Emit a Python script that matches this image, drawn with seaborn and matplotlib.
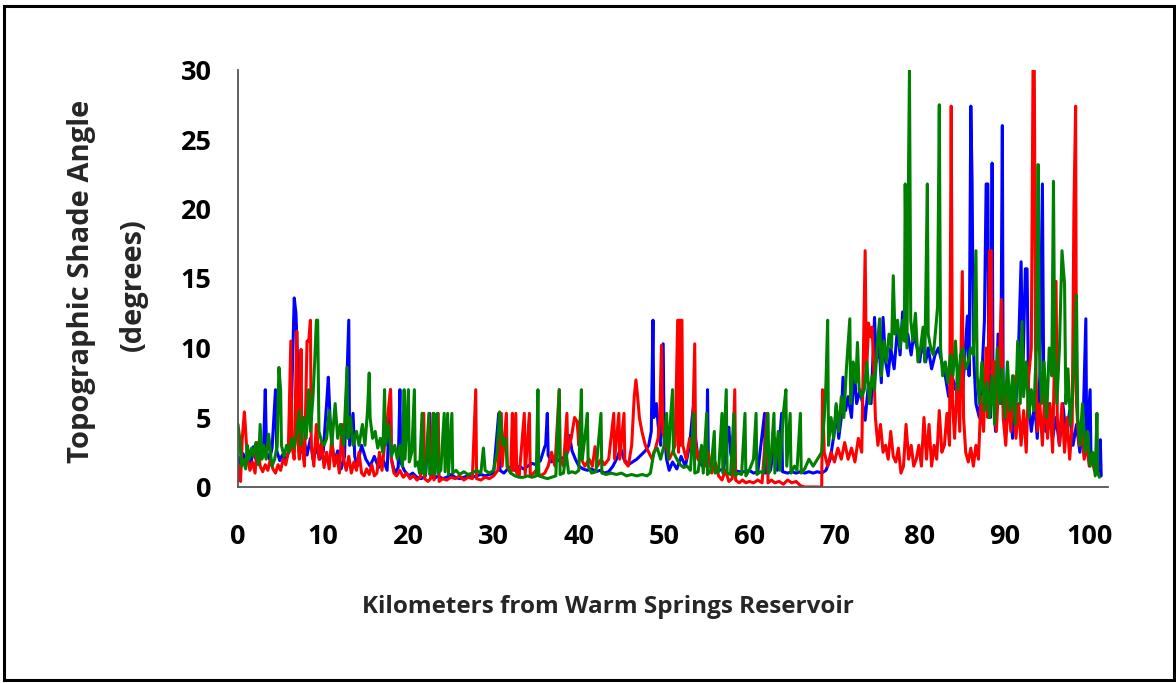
import numpy as np
import pandas as pd
import matplotlib
matplotlib.use("Agg")
import matplotlib.pyplot as plt
import seaborn as sns
from matplotlib.patches import Rectangle

# ---------------- data ----------------
blue_km = [0.0, 0.3, 0.6, 0.9, 1.2, 1.5, 1.8, 2.1, 2.4, 2.7, 3.0, 3.2, 3.35, 3.7, 4.0, 4.4, 4.55, 4.9, 5.2, 5.6,
           6.0, 6.3, 6.6, 6.8, 7.0, 7.2, 7.5, 7.8, 8.1, 8.5, 8.8, 9.2, 9.6, 10.0, 10.4, 10.6, 10.8, 11.0, 11.3, 11.7,
           12.1, 12.5, 13.0, 13.1, 13.5, 13.7, 14.0, 14.5, 15.0, 15.5, 16.0, 16.5, 17.0, 17.5, 17.9, 18.0, 18.4, 18.8, 19.0, 19.1,
           19.5, 20.0, 20.5, 21.0, 21.5, 22.0, 22.5, 22.6, 23.0, 23.5, 24.0, 24.5, 25.0, 25.5, 26.0, 26.5, 27.0, 27.5, 28.0, 28.5,
           29.0, 29.5, 30.0, 30.6, 30.75, 31.2, 31.8, 32.5, 33.0, 33.5, 34.0, 34.5, 35.0, 35.5, 36.0, 36.1, 36.3, 36.4, 36.8, 37.2,
           37.6, 38.0, 38.5, 38.9, 39.2, 39.6, 40.0, 40.5, 41.0, 41.5, 42.0, 42.5, 43.0, 43.5, 44.0, 44.5, 44.9, 45.3, 45.8, 46.3,
           46.8, 47.3, 47.8, 48.2, 48.5, 48.7, 48.8, 49.1, 49.3, 49.6, 49.9, 50.0, 50.3, 50.6, 51.0, 51.5, 52.0, 52.5, 53.0, 53.3,
           53.5, 53.7, 54.0, 54.5, 55.0, 55.1, 55.2, 55.6, 56.0, 56.5, 57.0, 57.4, 57.6, 57.8, 58.2, 58.8, 59.5, 60.0, 60.5, 61.0,
           61.8, 61.9, 62.5, 63.0, 63.3, 63.8, 63.9, 64.5, 65.0, 65.5, 66.0, 66.5, 67.0, 67.5, 68.0, 68.5, 69.0, 69.5, 70.0, 70.2,
           70.5, 70.8, 71.0, 71.3, 71.6, 72.0, 72.3, 72.6, 73.0, 73.3, 73.6, 74.0, 74.3, 74.7, 74.9, 75.2, 75.5, 75.7, 76.0, 76.3,
           76.6, 77.0, 77.4, 77.7, 78.0, 78.3, 78.6, 79.0, 79.3, 79.7, 80.0, 80.3, 80.7, 81.0, 81.4, 81.8, 82.2, 82.6, 83.0, 83.4,
           83.8, 84.2, 84.6, 85.0, 85.6, 85.8, 86.0, 86.15, 86.3, 86.6, 87.0, 87.3, 87.6, 87.8, 88.0, 88.1, 88.3, 88.5, 88.6, 88.9,
           89.2, 89.5, 89.7, 89.8, 90.1, 90.5, 90.9, 91.3, 91.6, 91.9, 92.1, 92.4, 92.6, 92.8, 93.1, 93.5, 93.8, 94.1, 94.4, 94.55,
           94.8, 95.2, 95.6, 96.0, 96.4, 96.8, 97.2, 97.6, 98.0, 98.4, 98.8, 99.2, 99.5, 99.6, 100.0, 100.1, 100.5, 100.8, 101.0, 101.2,
           101.3]
blue_deg = [2.2, 1.6, 2.4, 1.8, 2.6, 1.5, 2.9, 2.0, 3.0, 2.2, 2.8, 7.0, 2.5, 2.0, 2.8, 7.0, 2.6, 1.9, 2.3, 2.0,
            2.6, 6.5, 13.6, 12.5, 9.0, 4.5, 2.5, 3.2, 2.3, 3.5, 2.0, 2.8, 2.0, 2.5, 6.0, 7.9, 5.0, 3.3, 1.8, 2.6,
            1.3, 2.2, 12.0, 3.0, 5.3, 2.2, 1.5, 3.0, 2.0, 1.5, 2.2, 1.4, 2.0, 1.2, 7.0, 2.0, 1.0, 1.4, 7.0, 1.8,
            1.2, 0.8, 1.0, 0.7, 0.6, 0.8, 5.3, 0.9, 0.6, 0.8, 0.6, 0.7, 0.9, 0.7, 0.6, 0.7, 0.8, 0.7, 0.8, 0.9,
            0.8, 0.9, 1.0, 5.3, 1.2, 1.0, 1.4, 1.2, 1.5, 1.3, 1.5, 1.7, 1.6, 1.9, 2.9, 3.0, 5.3, 2.3, 1.8, 2.0,
            1.9, 2.1, 2.0, 3.7, 2.6, 2.0, 1.5, 1.3, 1.2, 1.3, 1.1, 1.2, 1.0, 1.1, 1.5, 2.1, 2.8, 2.0, 1.6, 1.8,
            2.0, 2.3, 2.6, 3.0, 4.0, 12.0, 5.0, 6.0, 4.5, 3.0, 10.3, 4.0, 2.0, 1.2, 1.8, 1.3, 2.2, 1.5, 3.0, 5.0,
            6.1, 3.5, 2.0, 1.5, 2.0, 7.0, 2.0, 1.3, 1.5, 1.2, 1.3, 3.5, 4.3, 2.5, 1.2, 1.1, 1.1, 1.2, 1.0, 1.1,
            5.3, 1.0, 1.2, 3.5, 1.2, 5.3, 1.1, 1.0, 1.1, 1.0, 1.1, 1.0, 1.1, 1.0, 1.1, 1.0, 1.2, 2.0, 4.0, 5.8,
            3.5, 5.0, 7.9, 5.5, 6.5, 5.0, 8.5, 6.0, 7.0, 6.0, 4.8, 7.5, 6.0, 12.2, 9.0, 10.5, 7.5, 12.2, 9.0, 8.0,
            10.0, 8.5, 11.5, 9.5, 12.6, 10.5, 11.0, 9.5, 11.0, 10.0, 9.0, 10.5, 9.0, 10.0, 8.5, 9.5, 10.0, 9.0, 8.0, 6.5,
            8.0, 7.0, 8.0, 6.5, 12.3, 8.0, 27.4, 22.0, 10.0, 6.0, 5.0, 8.0, 12.0, 21.8, 21.8, 8.0, 5.0, 23.3, 8.5, 4.0,
            11.0, 6.0, 26.0, 6.0, 4.0, 7.0, 3.5, 6.0, 10.0, 16.2, 8.0, 15.7, 15.7, 6.0, 4.0, 6.0, 3.5, 8.0, 21.8, 8.0,
            4.0, 6.0, 3.5, 5.0, 3.0, 6.0, 3.5, 5.5, 3.0, 4.5, 2.5, 5.0, 12.1, 3.0, 7.0, 2.0, 1.5, 1.2, 1.0, 3.4,
            0.8]

red_km = [0.0, 0.15, 0.3, 0.5, 0.75, 0.9, 1.1, 1.4, 1.7, 2.0, 2.3, 2.6, 2.9, 3.2, 3.5, 3.8, 4.1, 4.4, 4.7, 5.0,
          5.3, 5.6, 5.9, 6.2, 6.3, 6.6, 6.9, 7.0, 7.2, 7.4, 7.5, 7.8, 8.1, 8.3, 8.5, 8.6, 8.9, 9.2, 9.5, 9.8,
          10.1, 10.4, 10.7, 11.0, 11.3, 11.6, 11.9, 12.2, 12.4, 12.7, 13.0, 13.3, 13.6, 13.9, 14.2, 14.5, 14.8, 15.1, 15.4, 15.7,
          16.0, 16.3, 16.6, 16.9, 17.2, 17.6, 17.9, 18.0, 18.3, 18.6, 19.0, 19.4, 19.8, 20.2, 20.6, 21.0, 21.4, 21.8, 21.9, 22.3,
          22.6, 22.9, 23.0, 23.5, 23.6, 24.0, 24.5, 25.0, 25.5, 26.0, 26.5, 27.0, 27.5, 27.9, 28.0, 28.5, 29.0, 29.5, 30.0, 30.5,
          30.9, 31.0, 31.5, 31.6, 32.0, 32.2, 32.3, 32.6, 32.7, 33.0, 33.6, 33.7, 34.2, 34.3, 34.7, 35.0, 35.5, 36.0, 36.4, 36.8,
          37.2, 37.7, 37.8, 38.2, 38.6, 38.7, 39.1, 39.5, 39.8, 40.0, 40.2, 40.3, 40.7, 41.2, 41.6, 41.9, 42.2, 42.6, 43.0, 43.5,
          44.1, 44.2, 44.7, 44.8, 45.3, 45.4, 45.8, 46.2, 46.5, 46.7, 46.9, 47.1, 47.4, 47.8, 48.2, 48.6, 49.0, 49.3, 49.5, 49.7,
          49.85, 50.2, 50.6, 51.0, 51.3, 51.6, 51.7, 51.8, 51.9, 52.0, 52.1, 52.2, 52.6, 53.0, 53.3, 53.6, 53.7, 54.0, 54.4, 54.8,
          55.2, 55.6, 56.0, 56.4, 56.8, 57.2, 57.6, 58.0, 58.3, 58.4, 58.8, 59.2, 59.6, 60.0, 60.5, 61.0, 61.5, 62.1, 62.2, 62.6,
          63.0, 63.5, 64.0, 64.5, 65.0, 65.5, 66.0, 66.5, 67.0, 67.5, 68.0, 68.5, 68.6, 68.8, 69.2, 69.6, 70.0, 70.4, 70.8, 71.2,
          71.6, 72.0, 72.4, 72.8, 73.2, 73.6, 73.75, 74.0, 74.2, 74.4, 74.6, 74.8, 75.1, 75.4, 75.7, 76.0, 76.3, 76.6, 76.9, 77.2,
          77.5, 77.8, 78.1, 78.4, 78.7, 79.0, 79.3, 79.6, 79.9, 80.2, 80.5, 80.8, 81.1, 81.4, 81.7, 82.0, 82.3, 82.6, 82.9, 83.2,
          83.5, 83.7, 83.85, 84.1, 84.4, 84.7, 85.0, 85.15, 85.4, 85.7, 86.0, 86.3, 86.6, 86.9, 87.2, 87.5, 87.8, 88.0, 88.2, 88.4,
          88.5, 88.8, 89.0, 89.3, 89.6, 89.8, 90.1, 90.4, 90.7, 91.0, 91.3, 91.6, 91.9, 92.2, 92.5, 92.8, 93.1, 93.3, 93.45, 93.6,
          93.8, 94.1, 94.4, 94.7, 95.0, 95.3, 95.6, 96.0, 96.15, 96.4, 96.7, 97.0, 97.3, 97.6, 97.9, 98.1, 98.3, 98.4, 98.7, 99.0,
          99.3, 99.6, 99.9, 100.2, 100.5, 100.8, 101.0]
red_deg = [0.5, 1.5, 0.4, 3.5, 5.4, 4.0, 2.0, 1.2, 1.8, 1.0, 3.2, 1.5, 1.1, 1.6, 1.2, 2.0, 1.3, 1.0, 1.6, 1.2,
           2.0, 1.6, 2.5, 10.5, 3.0, 2.0, 11.2, 3.5, 2.0, 9.9, 3.0, 1.5, 10.5, 10.5, 12.0, 3.0, 1.5, 4.5, 2.0, 3.2,
           1.4, 2.5, 1.3, 3.5, 1.5, 2.3, 1.0, 4.5, 2.0, 1.2, 2.2, 1.0, 1.8, 1.2, 2.5, 1.0, 0.8, 1.3, 0.9, 1.6,
           0.8, 1.0, 2.5, 1.2, 3.0, 5.3, 7.0, 2.0, 1.0, 0.8, 1.2, 0.7, 1.0, 0.6, 0.8, 0.5, 0.7, 5.3, 0.6, 0.4,
           0.6, 5.3, 0.5, 5.3, 0.4, 0.6, 0.5, 0.7, 0.6, 0.8, 0.5, 0.7, 0.6, 7.0, 0.6, 0.5, 0.7, 0.6, 0.8, 1.2,
           5.3, 1.5, 5.3, 1.4, 1.0, 5.3, 1.2, 5.3, 1.0, 0.8, 5.3, 0.9, 5.3, 0.8, 1.0, 1.2, 0.8, 1.0, 1.5, 2.5,
           1.5, 7.0, 2.0, 1.5, 5.3, 2.5, 3.5, 5.0, 4.7, 3.0, 5.3, 2.0, 1.5, 2.0, 1.5, 2.9, 1.5, 2.0, 1.6, 2.0,
           5.3, 2.0, 5.3, 2.0, 5.3, 1.8, 1.5, 3.0, 6.5, 7.7, 6.5, 5.0, 4.0, 3.0, 2.5, 2.0, 2.8, 3.5, 5.0, 10.2,
           4.0, 3.0, 2.0, 2.5, 3.0, 12.0, 2.5, 12.0, 3.0, 12.0, 12.0, 3.0, 2.0, 3.5, 2.5, 10.3, 3.0, 2.0, 2.8, 1.5,
           2.5, 1.0, 1.8, 0.8, 0.5, 1.2, 0.4, 0.6, 7.0, 0.5, 0.3, 0.5, 0.3, 0.4, 0.3, 0.5, 0.3, 5.3, 0.3, 0.5,
           0.3, 0.4, 0.2, 0.5, 0.3, 0.4, 0.1, 0.0, 0.0, 0.0, 0.0, 0.0, 7.0, 2.5, 1.5, 2.5, 1.8, 2.8, 2.0, 3.2,
           2.0, 2.8, 1.8, 3.5, 2.5, 17.0, 8.0, 11.8, 10.8, 11.5, 9.0, 5.0, 3.0, 4.5, 2.5, 3.0, 2.0, 4.0, 2.2, 1.8,
           2.8, 1.0, 1.5, 4.5, 2.0, 3.0, 1.5, 2.0, 3.0, 1.5, 5.0, 2.0, 4.5, 1.5, 3.0, 2.0, 5.5, 2.5, 3.0, 5.3,
           3.0, 27.4, 6.0, 3.5, 8.0, 4.0, 15.5, 5.0, 2.5, 1.8, 2.8, 1.5, 3.0, 2.0, 6.5, 4.0, 10.0, 5.0, 17.0, 17.0,
           6.0, 9.0, 4.0, 8.0, 13.5, 5.0, 3.0, 6.5, 4.0, 8.0, 3.5, 6.0, 3.0, 5.5, 2.5, 8.0, 10.0, 30.0, 30.0, 10.0,
           4.0, 6.0, 3.0, 7.0, 3.5, 6.0, 2.5, 14.8, 5.0, 3.0, 6.0, 2.5, 5.0, 2.0, 4.5, 20.0, 27.4, 6.0, 3.0, 4.0,
           2.0, 3.0, 1.5, 2.0, 1.2, 1.0, 1.0]

green_km = [0.0, 0.2, 0.4, 0.6, 0.9, 1.1, 1.3, 1.6, 1.8, 2.1, 2.4, 2.6, 2.8, 3.0, 3.3, 3.6, 3.8, 4.0, 4.3, 4.6,
            4.8, 5.0, 5.1, 5.4, 5.7, 6.0, 6.3, 6.6, 6.9, 7.2, 7.4, 7.7, 8.0, 8.3, 8.5, 8.8, 9.0, 9.2, 9.35, 9.5,
            9.8, 10.1, 10.4, 10.7, 11.0, 11.4, 11.7, 12.0, 12.4, 12.8, 12.9, 13.2, 13.5, 13.9, 14.2, 14.6, 14.9, 15.2, 15.4, 15.5,
            15.8, 16.1, 16.4, 16.7, 17.0, 17.2, 17.3, 17.7, 18.0, 18.4, 18.7, 19.0, 19.3, 19.5, 19.6, 20.0, 20.1, 20.4, 20.7, 20.8,
            21.1, 21.3, 21.6, 21.7, 22.0, 22.4, 22.5, 22.8, 23.0, 23.1, 23.4, 23.5, 23.8, 24.2, 24.3, 24.6, 24.7, 25.1, 25.2, 25.6,
            26.0, 26.5, 27.0, 27.5, 28.0, 28.5, 28.8, 29.0, 29.5, 30.0, 30.4, 30.7, 30.9, 31.1, 31.4, 31.6, 32.0, 32.5, 33.0, 33.5,
            34.0, 34.5, 35.0, 35.2, 35.3, 35.8, 36.3, 36.8, 37.3, 37.7, 37.8, 38.2, 38.5, 38.8, 39.2, 39.6, 40.0, 40.3, 40.4, 40.7,
            41.0, 41.1, 41.5, 42.0, 42.6, 42.7, 43.2, 43.8, 44.4, 45.0, 45.6, 46.2, 46.8, 47.4, 48.0, 48.4, 48.8, 49.2, 49.6, 50.0,
            50.3, 50.5, 50.8, 51.0, 51.1, 51.5, 51.9, 52.3, 52.7, 53.1, 53.5, 53.6, 54.0, 54.4, 54.6, 55.0, 55.1, 55.5, 55.9, 56.0,
            56.4, 56.8, 56.9, 57.3, 57.4, 57.8, 58.2, 58.3, 58.7, 59.1, 59.5, 59.6, 60.0, 60.5, 60.8, 60.9, 61.3, 61.7, 62.2, 62.3,
            62.6, 62.9, 63.0, 63.4, 63.6, 64.0, 64.3, 64.4, 64.8, 64.9, 65.3, 65.6, 66.0, 66.1, 66.5, 67.0, 67.5, 68.0, 68.5, 68.8,
            69.0, 69.2, 69.3, 69.6, 69.9, 70.2, 70.5, 70.8, 71.1, 71.4, 71.8, 71.9, 72.2, 72.5, 72.7, 72.9, 73.2, 73.5, 73.8, 74.1,
            74.4, 74.7, 75.0, 75.3, 75.5, 75.8, 76.1, 76.4, 76.7, 76.9, 77.1, 77.4, 77.7, 78.0, 78.2, 78.3, 78.5, 78.8, 78.95, 79.2,
            79.5, 79.8, 80.1, 80.4, 80.6, 80.9, 81.0, 81.3, 81.6, 81.9, 82.1, 82.3, 82.45, 82.7, 83.0, 83.3, 83.6, 83.9, 84.2, 84.5,
            84.8, 85.1, 85.4, 85.7, 86.0, 86.3, 86.6, 86.75, 87.0, 87.3, 87.6, 87.9, 88.2, 88.5, 88.8, 89.1, 89.4, 89.7, 90.0, 90.3,
            90.6, 90.9, 91.2, 91.5, 91.8, 92.0, 92.2, 92.5, 92.8, 93.1, 93.4, 93.7, 93.9, 94.05, 94.3, 94.6, 94.9, 95.2, 95.5, 95.7,
            95.85, 96.1, 96.4, 96.7, 97.0, 97.15, 97.4, 97.7, 98.0, 98.4, 98.55, 98.8, 99.1, 99.4, 99.7, 100.0, 100.3, 100.6, 100.8, 100.9,
            101.1]
green_deg = [4.5, 3.5, 1.5, 2.0, 1.3, 3.0, 2.0, 2.8, 2.2, 3.2, 1.6, 4.5, 2.0, 3.0, 2.0, 3.8, 2.5, 1.5, 2.0, 3.0,
             8.6, 7.0, 3.0, 2.2, 3.0, 2.5, 3.5, 2.8, 4.0, 5.5, 3.0, 5.0, 3.5, 7.0, 4.0, 6.5, 9.0, 12.0, 12.0, 4.0,
             3.3, 3.0, 3.5, 5.5, 3.0, 6.0, 3.5, 4.5, 3.0, 8.6, 3.5, 5.0, 3.0, 4.0, 3.0, 4.5, 3.0, 5.5, 8.2, 5.0,
             3.5, 4.0, 2.8, 3.5, 2.5, 7.0, 3.0, 4.5, 2.2, 3.0, 2.0, 3.0, 1.5, 7.0, 2.0, 7.0, 1.8, 2.5, 7.0, 1.5,
             1.8, 1.0, 5.3, 1.0, 0.9, 5.3, 0.9, 1.1, 5.3, 0.9, 5.3, 1.0, 1.2, 5.3, 1.1, 5.3, 0.9, 5.3, 1.0, 1.2,
             0.9, 1.1, 0.9, 1.0, 1.2, 1.0, 2.8, 1.2, 1.0, 1.2, 2.5, 5.4, 4.0, 3.0, 3.5, 1.5, 1.0, 0.8, 0.7, 0.7,
             0.8, 0.7, 0.8, 7.0, 0.8, 0.7, 0.6, 0.7, 0.8, 7.0, 0.9, 1.0, 2.5, 1.0, 1.1, 1.0, 1.2, 7.0, 2.0, 3.5,
             5.3, 1.5, 1.0, 1.1, 5.3, 1.0, 0.9, 1.0, 0.9, 1.0, 0.8, 0.9, 0.8, 0.9, 0.8, 1.0, 2.5, 2.8, 2.0, 3.0,
             5.3, 2.0, 5.3, 7.0, 2.5, 2.0, 1.6, 1.4, 1.5, 1.2, 5.3, 1.0, 1.1, 3.0, 1.0, 5.3, 0.9, 1.2, 4.0, 1.0,
             1.1, 5.3, 1.0, 7.0, 1.0, 0.9, 5.3, 0.8, 1.0, 0.9, 5.3, 0.8, 1.2, 2.0, 5.3, 0.9, 1.1, 1.0, 5.3, 1.0,
             2.5, 5.3, 1.0, 4.0, 1.2, 5.3, 7.0, 1.5, 5.3, 1.0, 1.5, 1.2, 5.3, 1.0, 1.3, 2.0, 1.5, 2.0, 2.5, 5.0,
             7.5, 12.0, 3.0, 5.0, 3.5, 6.0, 4.0, 6.5, 5.0, 8.5, 12.1, 6.0, 9.0, 7.5, 10.4, 7.0, 6.5, 7.0, 9.0, 6.0,
             8.0, 7.0, 10.0, 12.1, 8.0, 10.5, 9.0, 11.0, 10.0, 15.2, 11.0, 12.0, 10.0, 12.0, 10.5, 21.8, 10.0, 30.0, 12.0, 10.5,
             12.5, 9.0, 10.0, 11.5, 9.0, 21.8, 11.0, 10.0, 9.5, 11.5, 13.0, 27.5, 10.0, 8.0, 9.0, 7.5, 9.5, 8.0, 10.5, 7.0,
             9.5, 10.0, 8.5, 9.0, 10.0, 9.5, 17.0, 8.0, 6.0, 9.0, 5.5, 7.5, 5.0, 8.0, 4.5, 10.0, 6.0, 8.5, 5.0, 9.0,
             5.5, 8.0, 4.5, 10.5, 6.0, 11.9, 6.5, 9.0, 5.0, 7.0, 5.5, 10.0, 23.2, 10.0, 6.0, 9.0, 5.0, 10.0, 8.0, 22.0,
             9.0, 6.0, 10.0, 17.0, 14.6, 6.0, 8.5, 4.5, 7.0, 13.8, 5.0, 3.0, 6.0, 2.5, 4.0, 1.5, 2.5, 0.8, 5.3, 1.0,
             0.7]

x_ticks = [0, 10, 20, 30, 40, 50, 60, 70, 80, 90, 100]
y_ticks = [0, 5, 10, 15, 20, 25, 30]
series_colors = {"blue": "#0000FF", "red": "#FF0000", "green": "#008000"}

# ---------------- figure ----------------
sns.set_theme(style="white")
plt.rcParams["font.family"] = ["Open Sans", "DejaVu Sans"]

fig = plt.figure(figsize=(11.76, 6.83), dpi=100)
ax = fig.add_axes([238 / 1176, 1 - 487 / 683, (1108 - 238) / 1176, (487 - 70) / 683])

frames = []
for name, km, deg in [("blue", blue_km, blue_deg), ("red", red_km, red_deg), ("green", green_km, green_deg)]:
    frames.append(pd.DataFrame({"km": km, "deg": deg, "series": name}))
df = pd.concat(frames, ignore_index=True)

for name in ["blue", "red", "green"]:
    sub = df[df["series"] == name]
    sns.lineplot(data=sub, x="km", y="deg", ax=ax, color=series_colors[name],
                 linewidth=2.2, estimator=None, sort=False, legend=False)

ax.set_xlim(0, 102.1)
ax.set_ylim(0, 30)
ax.set_xticks(x_ticks)
ax.set_yticks(y_ticks)
ax.set_xticklabels([str(t) for t in x_ticks])
ax.set_yticklabels([str(t) for t in y_ticks])
ax.set_xlabel("")
ax.set_ylabel("")
for side in ["top", "right"]:
    ax.spines[side].set_visible(False)
for side in ["left", "bottom"]:
    ax.spines[side].set_color("#555555")
    ax.spines[side].set_linewidth(1.3)
ax.tick_params(axis="both", direction="out", length=7, width=1.3, color="#555555",
               labelsize=19.5, labelcolor="black")
ax.tick_params(axis="x", pad=20)
ax.tick_params(axis="y", pad=12)
for lab in ax.get_xticklabels() + ax.get_yticklabels():
    lab.set_fontweight("bold")
ax.set_facecolor("white")
ax.patch.set_alpha(0)

fig.text(608 / 1176, 1 - 607 / 683, "Kilometers from Warm Springs Reservoir",
         ha="center", va="center", fontsize=17.5, fontweight="bold")
fig.text(82 / 1176, 1 - 281 / 683, "Topographic Shade Angle", rotation=90,
         ha="center", va="center", fontsize=21, fontweight="bold")
fig.text(133 / 1176, 1 - 285 / 683, "(degrees)", rotation=90,
         ha="center", va="center", fontsize=21, fontweight="bold")

fig.patches.append(Rectangle((4 / 1176, 3 / 683), 1170 / 1176, 674 / 683, transform=fig.transFigure,
                             fill=False, edgecolor="black", linewidth=2.2))

fig.savefig("out.png", dpi=100, facecolor="white")
